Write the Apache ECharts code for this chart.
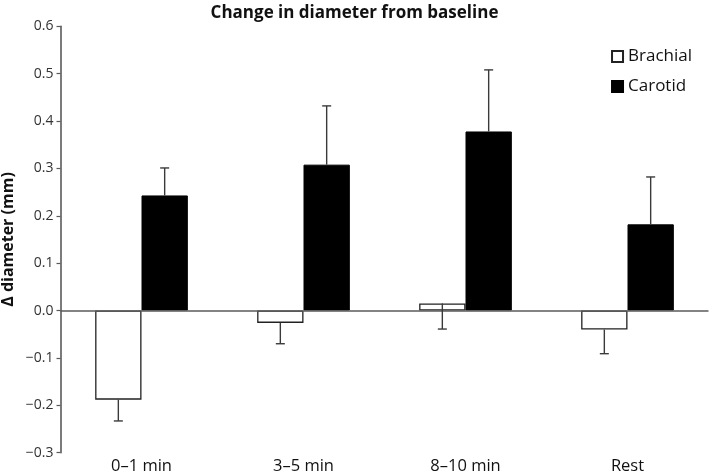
<!DOCTYPE html>
<html>
<head>
<meta charset="utf-8">
<script src="https://cdn.jsdelivr.net/npm/echarts@6/dist/echarts.min.js"></script>
<style>html,body{margin:0;padding:0;background:#fff}#c{width:709px;height:472px}</style>
</head>
<body>
<div id="c"></div>
<script>
const categories = ['0–1 min', '3–5 min', '8–10 min', 'Rest'];
const brachial = [-0.188, -0.026, 0.015, -0.040];
const carotid = [0.243, 0.308, 0.378, 0.182];
const brachialErr = [0.045, 0.044, 0.054, 0.051];   // drawn downward
const carotidErr = [0.058, 0.124, 0.130, 0.100];    // drawn upward
const yTicks = [-0.3, -0.2, -0.1, 0.0, 0.1, 0.2, 0.3, 0.4, 0.5, 0.6];

const GAP = 0.428;
const font = '"Open Sans", sans-serif';

function errSeries(name, values, errs, dir, side) {
  return {
    type: 'custom',
    name: name + ' err',
    silent: true,
    z: 5,
    data: values.map((v, i) => [i, v, v + dir * errs[i]]),
    renderItem: function (params, api) {
      const i = api.value(0);
      const catW = api.size([1, 0])[0];
      const bw = catW * (1 - GAP) / 2;
      const p0 = api.coord([i, api.value(1)]);
      const p1 = api.coord([i, api.value(2)]);
      const x = p0[0] + side * bw / 2;
      const cap = 4.5;
      const style = { stroke: '#3a3a3a', lineWidth: 1.4 };
      return {
        type: 'group',
        children: [
          { type: 'line', shape: { x1: x, y1: p0[1], x2: x, y2: p1[1] }, style: style },
          { type: 'line', shape: { x1: x - cap, y1: p1[1], x2: x + cap, y2: p1[1] }, style: style }
        ]
      };
    }
  };
}

const chart = echarts.init(document.getElementById('c'));
chart.setOption({
  animation: false,
  backgroundColor: '#fff',
  title: {
    text: 'Change in diameter from baseline',
    left: 'center',
    top: 0,
    textStyle: { fontFamily: font, fontSize: 17, fontWeight: 'bold', color: '#111' }
  },
  legend: {
    data: ['Brachial', 'Carotid'],
    orient: 'vertical',
    right: 12,
    top: 43,
    itemWidth: 11,
    itemHeight: 11,
    itemGap: 13,
    icon: 'rect',
    textStyle: { fontFamily: font, fontSize: 17, color: '#111' }
  },
  grid: { left: 60.5, right: 0.5, top: 26.3, bottom: 19.3, containLabel: false, outerBoundsMode: 'none' },
  xAxis: {
    type: 'category',
    data: categories,
    axisLine: { show: false, onZero: false },
    axisTick: { show: false },
    axisLabel: { margin: 5, fontFamily: font, fontSize: 16.5, color: '#111' },
    splitLine: { show: false }
  },
  yAxis: {
    type: 'value',
    min: -0.3,
    max: 0.6,
    interval: 0.1,
    name: 'Δ diameter (mm)',
    nameLocation: 'middle',
    nameGap: 44,
    nameMoveOverlap: false,
    nameTextStyle: { fontFamily: font, fontSize: 16, fontWeight: 'bold', color: '#111' },
    axisLine: { show: true, lineStyle: { color: '#5a5a5a', width: 1.6 } },
    axisTick: { show: true, inside: false, length: 4, lineStyle: { color: '#5a5a5a', width: 1.2 } },
    axisLabel: {
      margin: 7,
      fontFamily: font,
      fontSize: 14,
      color: '#333',
      formatter: function (v) { return v.toFixed(1).replace('-', '−'); }
    },
    splitLine: { show: false }
  },
  series: [
    {
      name: 'Brachial',
      type: 'bar',
      data: brachial,
      barGap: '0%',
      barCategoryGap: (GAP * 100) + '%',
      itemStyle: { color: '#fff', borderColor: '#222', borderWidth: 1.3 },
      markLine: {
        silent: true,
        symbol: 'none',
        label: { show: false },
        lineStyle: { color: '#5a5a5a', type: 'solid', width: 1.6 },
        data: [{ yAxis: 0 }]
      }
    },
    {
      name: 'Carotid',
      type: 'bar',
      data: carotid,
      itemStyle: { color: '#000', borderColor: '#000', borderWidth: 1 }
    },
    errSeries('Brachial', brachial, brachialErr, -1, -1),
    errSeries('Carotid', carotid, carotidErr, 1, 1)
  ]
});
</script>
</body>
</html>
